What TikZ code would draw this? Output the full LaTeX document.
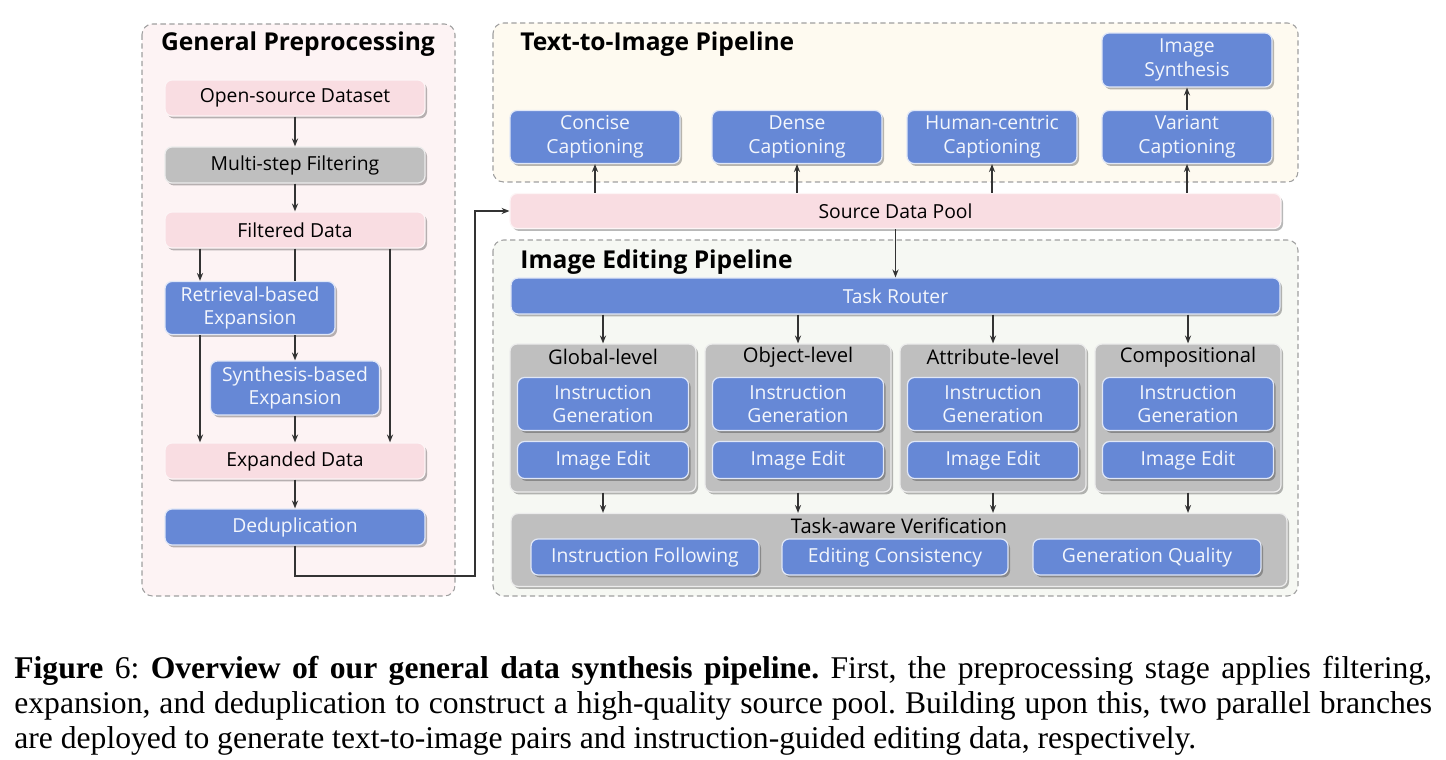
\documentclass[tikz,border=0pt]{standalone}
\usepackage{fontspec}
\setmainfont{Liberation Serif}
\newfontfamily\boxfont{Open Sans}
\usepackage{xcolor}
\usetikzlibrary{calc,arrows.meta,positioning,shadows}

\definecolor{blueF}{HTML}{6688D6}
\definecolor{pinkF}{HTML}{F9DDE2}
\definecolor{grayF}{HTML}{BFBFBF}
\definecolor{prepBG}{HTML}{FDF3F4}
\definecolor{ttiBG}{HTML}{FEFAF0}
\definecolor{editBG}{HTML}{F6F8F3}
\definecolor{lineC}{HTML}{333333}

\tikzset{
  panel/.style={draw=gray!75, dashed, dash pattern=on 3pt off 2pt, rounded corners=6pt, line width=0.6pt},
  shade/.style={drop shadow={shadow xshift=1.2pt, shadow yshift=-1.4pt, fill=black, opacity=0.28}},
  boxbase/.style={rounded corners=4pt, shade, inner sep=1pt, align=center,
    font=\boxfont\fontsize{11}{13.5}\selectfont},
  bluebox/.style={boxbase, fill=blueF, draw=white!80!blueF, line width=0.7pt, text=white!92!blueF},
  pinkbox/.style={boxbase, fill=pinkF, draw=white!70!pinkF, line width=0.7pt, text=black},
  graybox/.style={boxbase, fill=grayF, draw=white!70!grayF, line width=0.7pt, text=black},
  groupbox/.style={rounded corners=4pt, shade, fill=grayF, draw=white!70!grayF, line width=0.7pt},
  paneltitle/.style={font=\boxfont\bfseries\fontsize{14}{16}\selectfont, inner sep=0pt},
  grouptitle/.style={font=\boxfont\fontsize{11.5}{13}\selectfont, inner sep=0pt},
  flow/.style={draw=lineC, line width=0.7pt, -{Stealth[length=4.5pt, width=3.5pt]}},
  plain/.style={draw=lineC, line width=0.7pt},
  capline/.style={anchor=base west, inner sep=0pt, font=\fontsize{18}{21}\selectfont}
}

\begin{document}
\begin{tikzpicture}[x=0.02cm, y=-0.02cm, >=Stealth]
    \useasboundingbox (0,0) rectangle (1446,760);

    % Panels
    \draw[panel, fill=prepBG] (142,24) rectangle (455,596);
    \draw[panel, fill=ttiBG] (493,23) rectangle (1298,182);
    \draw[panel, fill=editBG] (493,240) rectangle (1298,596);
    \node[paneltitle] (prepT) at (298,44) {General Preprocessing};
    \node[paneltitle, anchor=west] (ttiT) at (520,44) {Text-to-Image Pipeline};
    \node[paneltitle, anchor=west] (editT) at (520,262) {Image Editing Pipeline};

    % General preprocessing chain
    \node[pinkbox, minimum width=5.2cm, minimum height=0.72cm] (open) at (295,98) {Open-source Dataset};
    \node[graybox, minimum width=5.2cm, minimum height=0.72cm] (multi) at (295,165) {Multi-step Filtering};
    \node[pinkbox, minimum width=5.2cm, minimum height=0.72cm] (filt) at (295,230) {Filtered Data};
    \node[bluebox, minimum width=3.4cm, minimum height=1.06cm] (retr) at (250,308) {Retrieval-based\\Expansion};
    \node[bluebox, minimum width=3.38cm, minimum height=1.08cm] (synth) at (295,388) {Synthesis-based\\Expansion};
    \node[pinkbox, minimum width=5.2cm, minimum height=0.72cm] (expd) at (295,461) {Expanded Data};
    \node[bluebox, minimum width=5.2cm, minimum height=0.72cm] (dedup) at (295,527) {Deduplication};

    \draw[flow] (open) -- (multi);
    \draw[flow] (multi) -- (filt);
    \draw[flow] ($(filt.south)+(-95,0)$) -- ($(retr.north)+(-50,0)$);
    \draw[plain] (filt.south) -- (filt.south |- retr.north);
    \draw[flow] (retr.south -| synth.north) -- (synth.north);
    \draw[flow] ($(filt.south)+(95,0)$) -- ($(expd.north)+(95,0)$);
    \draw[flow] ($(retr.south)+(-50,0)$) -- ($(expd.north)+(-95,0)$);
    \draw[flow] (synth) -- (expd);
    \draw[flow] (expd) -- (dedup);

    % Source data pool
    \node[pinkbox, minimum width=15.42cm, minimum height=0.7cm] (pool) at (895.5,211) {Source Data Pool};
    \coordinate (turn) at (475,576);
    \draw[flow] (dedup.south) |- (turn) |- (pool.west);

    % Text-to-image branch
    \node[bluebox, minimum width=3.4cm, minimum height=1.06cm] (concise) at (595,137) {Concise\\Captioning};
    \node[bluebox, minimum width=3.4cm, minimum height=1.06cm] (dense) at (797,137) {Dense\\Captioning};
    \node[bluebox, minimum width=3.4cm, minimum height=1.06cm] (human) at (992,137) {Human-centric\\Captioning};
    \node[bluebox, minimum width=3.4cm, minimum height=1.06cm] (variant) at (1187,137) {Variant\\Captioning};
    \node[bluebox, minimum width=3.4cm, minimum height=1.08cm] (imgsyn) at (1187,60) {Image\\Synthesis};

    \foreach \n in {concise,dense,human,variant}
        \draw[flow] (pool.north -| \n.south) -- (\n.south);
    \draw[flow] (variant) -- (imgsyn);

    % Image editing branch
    \node[bluebox, minimum width=15.38cm, minimum height=0.72cm] (router) at (895.5,296) {Task Router};
    \draw[flow] (pool) -- (router);

    \foreach \g/\x/\t in {glob/603/Global-level, obj/798/Object-level, attr/993/Attribute-level, comp/1188/Compositional} {
        \node[groupbox, minimum width=3.72cm, minimum height=2.96cm] (\g) at (\x,418) {};
        \node[grouptitle] (\g T) at (\x,357) {\t};
        \node[bluebox, minimum width=3.42cm, minimum height=1.06cm] (\g I) at (\x,404) {Instruction\\Generation};
        \node[bluebox, minimum width=3.42cm, minimum height=0.74cm] (\g E) at (\x,460) {Image Edit};
        \draw[flow] (router.south -| \g.north) -- (\g.north);
    }

    % Verification
    \node[groupbox, minimum width=15.52cm, minimum height=1.46cm] (verify) at (899,550) {};
    \node[grouptitle] (verifyT) at (899,526) {Task-aware Verification};
    \node[bluebox, minimum width=4.56cm, minimum height=0.72cm] (follow) at (645,557) {Instruction Following};
    \node[bluebox, minimum width=4.52cm, minimum height=0.72cm] (consist) at (895,557) {Editing Consistency};
    \node[bluebox, minimum width=4.56cm, minimum height=0.72cm] (quality) at (1147,557) {Generation Quality};

    \foreach \g in {glob,obj,attr,comp}
        \draw[flow] (\g.south) -- (verify.north -| \g.south);

    % Caption, one node per printed line
    \node[capline] (cap1) at (14,678) {\frenchspacing\makebox[28.36cm][s]{\textbf{Figure} 6: \textbf{Overview of our general data synthesis pipeline.} First, the preprocessing stage applies filtering,}};
    \node[capline] (cap2) at (14,713) {\frenchspacing\makebox[28.36cm][s]{expansion, and deduplication to construct a high-quality source pool. Building upon this, two parallel branches}};
    \node[capline] (cap3) at (14,748) {\frenchspacing are deployed to generate text-to-image pairs and instruction-guided editing data, respectively.};
\end{tikzpicture}
\end{document}
